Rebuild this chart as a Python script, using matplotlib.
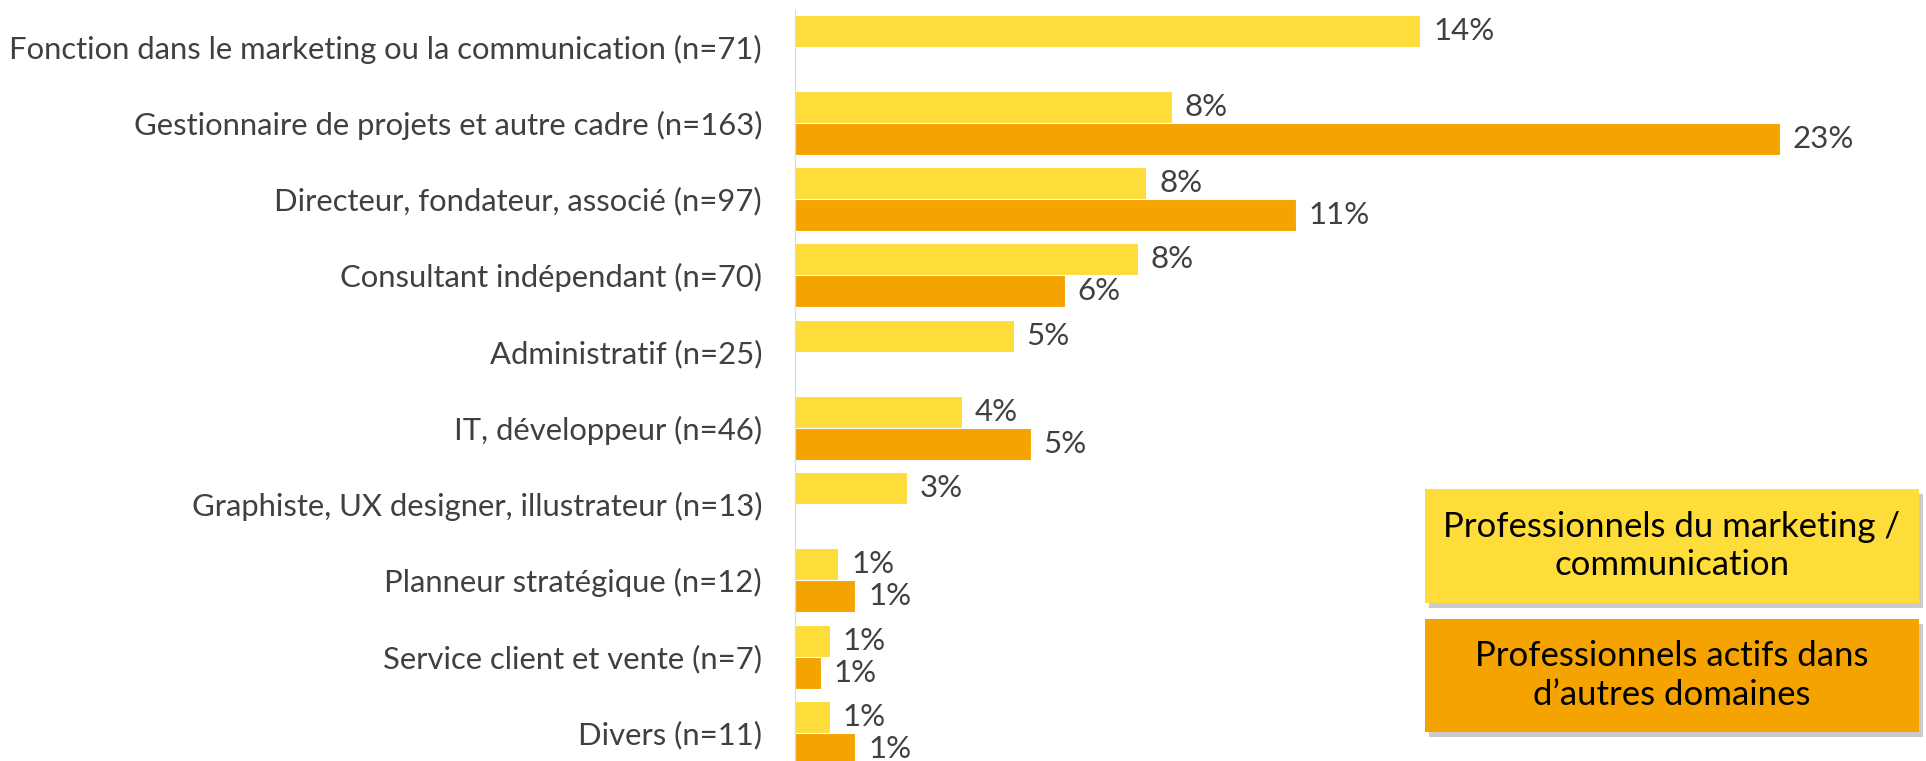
import numpy as np
import matplotlib
matplotlib.use("Agg")
import matplotlib.pyplot as plt
from matplotlib.patches import Rectangle

plt.rcParams['font.family'] = ['Lato', 'DejaVu Sans']

categories = [
    "Fonction dans le marketing ou la communication (n=71)",
    "Gestionnaire de projets et autre cadre (n=163)",
    "Directeur, fondateur, associé (n=97)",
    "Consultant indépendant (n=70)",
    "Administratif (n=25)",
    "IT, développeur (n=46)",
    "Graphiste, UX designer, illustrateur (n=13)",
    "Planneur stratégique (n=12)",
    "Service client et vente (n=7)",
    "Divers (n=11)",
]
# valeurs (None = pas de barre)
marketing = [14.6, 8.8, 8.2, 8.0, 5.1, 3.9, 2.6, 1.0, 0.8, 0.8]
autres = [None, 23.0, 11.7, 6.3, None, 5.5, None, 1.4, 0.6, 1.4]
lab_marketing = ["14%", "8%", "8%", "8%", "5%", "4%", "3%", "1%", "1%", "1%"]
lab_autres = [None, "23%", "11%", "6%", None, "5%", None, "1%", "1%", "1%"]

jaune = '#FEDC3A'
orange = '#F4A300'
gris = '#404040'

fig = plt.figure(figsize=(19.26, 7.61), dpi=100)
ax = fig.add_axes([0.413, 0.0, 0.511, 1 - 10 / 761])

y = np.arange(len(categories))
h = 0.42
ax.barh(y - h / 2, marketing, height=h, color=jaune, edgecolor='white', linewidth=0.8)
for i, v in enumerate(marketing):
    ax.text(v + 0.3, i - h / 2, lab_marketing[i], va='center', ha='left',
            fontsize=22.5, color=gris, clip_on=False)
for i, v in enumerate(autres):
    if v is None:
        continue
    ax.barh(i + h / 2, v, height=h, color=orange, edgecolor='white', linewidth=0.8)
    ax.text(v + 0.3, i + h / 2, lab_autres[i], va='center', ha='left',
            fontsize=22.5, color=gris, clip_on=False)

ax.set_xlim(0, 23)
ax.set_ylim(9.37, -0.48)
ax.set_yticks(y)
ax.set_yticklabels(categories, fontsize=22.3, color=gris)
ax.tick_params(axis='y', length=0, pad=24)
ax.set_xticks([])
for s in ['top', 'right', 'bottom']:
    ax.spines[s].set_visible(False)
ax.spines['left'].set_color('#D9D9D9')

# encadrés de légende
W, H = 1926, 761
boites = [
    (1425, 489, 603, jaune, "Professionnels du marketing /\ncommunication"),
    (1425, 619, 732, orange, "Professionnels actifs dans\nd\u2019autres domaines"),
]
for x0, yt, yb, c, txt in boites:
    x1 = 1919
    ombre = Rectangle(((x0 + 4) / W, 1 - (yb + 5) / H), (x1 - x0) / W, (yb - yt) / H,
                      transform=fig.transFigure, facecolor='#BFBFBF', edgecolor='none',
                      alpha=0.8, zorder=1)
    fig.patches.append(ombre)
    boite = Rectangle((x0 / W, 1 - yb / H), (x1 - x0) / W, (yb - yt) / H,
                      transform=fig.transFigure, facecolor=c, edgecolor='none', zorder=2)
    fig.patches.append(boite)
    fig.text((x0 + x1) / 2 / W, 1 - (yt + yb) / 2 / H, txt, ha='center', va='center',
             fontsize=25, color='black', linespacing=1.25, zorder=3)

fig.savefig('out.png', dpi=100)
